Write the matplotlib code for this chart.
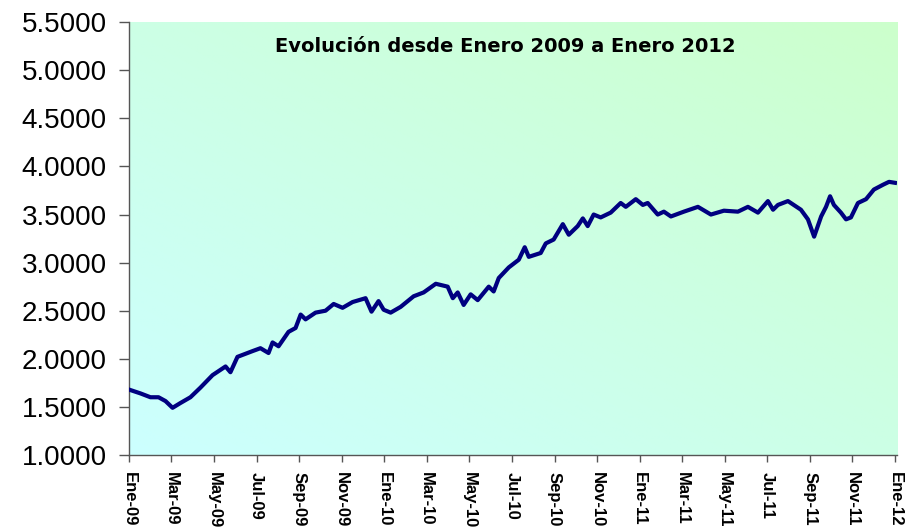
import matplotlib
matplotlib.use('Agg')
import matplotlib.pyplot as plt
import numpy as np

# meses transcurridos desde Enero 2009
meses = [0.00, 0.54, 1.01, 1.39, 1.72, 2.05, 2.42, 2.89, 3.36, 3.93,
         4.54, 4.77, 5.10, 5.81, 6.18, 6.56, 6.75, 7.03, 7.50, 7.83,
         8.07, 8.30, 8.77, 9.24, 9.62, 10.04, 10.51, 11.12, 11.40, 11.73,
         11.97, 12.30, 12.77, 13.38, 13.85, 14.42, 14.98, 15.22, 15.45, 15.73,
         16.06, 16.39, 16.91, 17.14, 17.38, 17.85, 18.32, 18.60, 18.79, 19.35,
         19.59, 19.96, 20.39, 20.67, 21.09, 21.33, 21.56, 21.84, 22.17, 22.64,
         23.11, 23.35, 23.82, 24.15, 24.38, 24.85, 25.14, 25.47, 26.08, 26.74,
         27.35, 27.96, 28.62, 29.09, 29.56, 30.03, 30.27, 30.50, 30.97, 31.58,
         31.91, 32.20, 32.53, 32.76, 32.95, 33.13, 33.46, 33.70, 33.93, 34.26,
         34.64, 35.01, 35.44, 35.72, 36.00]

valores = [1.68, 1.64, 1.60, 1.60, 1.56, 1.49, 1.54, 1.60, 1.70, 1.83,
           1.92, 1.86, 2.02, 2.08, 2.11, 2.06, 2.17, 2.13, 2.28, 2.32,
           2.46, 2.41, 2.48, 2.50, 2.57, 2.53, 2.59, 2.63, 2.49, 2.60,
           2.51, 2.48, 2.54, 2.65, 2.69, 2.78, 2.75, 2.63, 2.69, 2.56,
           2.67, 2.61, 2.75, 2.70, 2.84, 2.95, 3.03, 3.16, 3.06, 3.10,
           3.20, 3.24, 3.40, 3.29, 3.38, 3.46, 3.38, 3.50, 3.47, 3.52,
           3.62, 3.58, 3.66, 3.60, 3.62, 3.50, 3.53, 3.48, 3.53, 3.58,
           3.50, 3.54, 3.53, 3.58, 3.52, 3.64, 3.55, 3.60, 3.64, 3.55,
           3.45, 3.27, 3.48, 3.58, 3.69, 3.60, 3.52, 3.45, 3.47, 3.62,
           3.66, 3.76, 3.81, 3.84, 3.83]

etiquetas_x = ['Ene-09', 'Mar-09', 'May-09', 'Jul-09', 'Sep-09', 'Nov-09',
               'Ene-10', 'Mar-10', 'May-10', 'Jul-10', 'Sep-10', 'Nov-10',
               'Ene-11', 'Mar-11', 'May-11', 'Jul-11', 'Sep-11', 'Nov-11',
               'Ene-12']
ticks_y = [1.0, 1.5, 2.0, 2.5, 3.0, 3.5, 4.0, 4.5, 5.0, 5.5]

titulo = 'Evolución desde Enero 2009 a Enero 2012'

fig = plt.figure(figsize=(9.08, 5.29), dpi=100)
ax = fig.add_axes([0.142, 0.140, 0.846, 0.818])

# fondo degradado diagonal (cian abajo-izquierda, verde claro arriba-derecha)
gx, gy = np.meshgrid(np.linspace(0, 1, 200), np.linspace(0, 1, 200))
t = (gx + gy) / 2
c0 = np.array([204, 255, 255]) / 255
c1 = np.array([204, 255, 204]) / 255
grad = c0[None, None, :] * (1 - t[..., None]) + c1[None, None, :] * t[..., None]
ax.imshow(grad, extent=[0, 1, 0, 1], transform=ax.transAxes, origin='lower',
          aspect='auto', zorder=0)

ax.plot(meses, valores, color='#000080', linewidth=3, zorder=3,
        solid_joinstyle='round')

ax.set_xlim(0, 36.1)
ax.set_ylim(1.0, 5.5)

ax.set_xticks(range(0, 37, 2))
ax.set_xticklabels(etiquetas_x, rotation=270, fontsize=12, fontweight='bold',
                   family='Liberation Sans')
ax.set_yticks(ticks_y)
ax.set_yticklabels([f'{v:.4f}' for v in ticks_y], fontsize=20,
                   family='Liberation Sans')

ax.tick_params(axis='y', direction='out', length=7, width=1, color='#555555', pad=9)
ax.tick_params(axis='x', direction='out', length=5, width=1, color='#555555', pad=7)

for lado in ['top', 'right']:
    ax.spines[lado].set_visible(False)
for lado in ['left', 'bottom']:
    ax.spines[lado].set_color('#555555')
    ax.spines[lado].set_linewidth(1)

ax.text(0.49, 0.945, titulo, transform=ax.transAxes, ha='center', va='center',
        fontsize=14, fontweight='bold', family='DejaVu Sans', color='black')

fig.savefig('out.png', dpi=100)
